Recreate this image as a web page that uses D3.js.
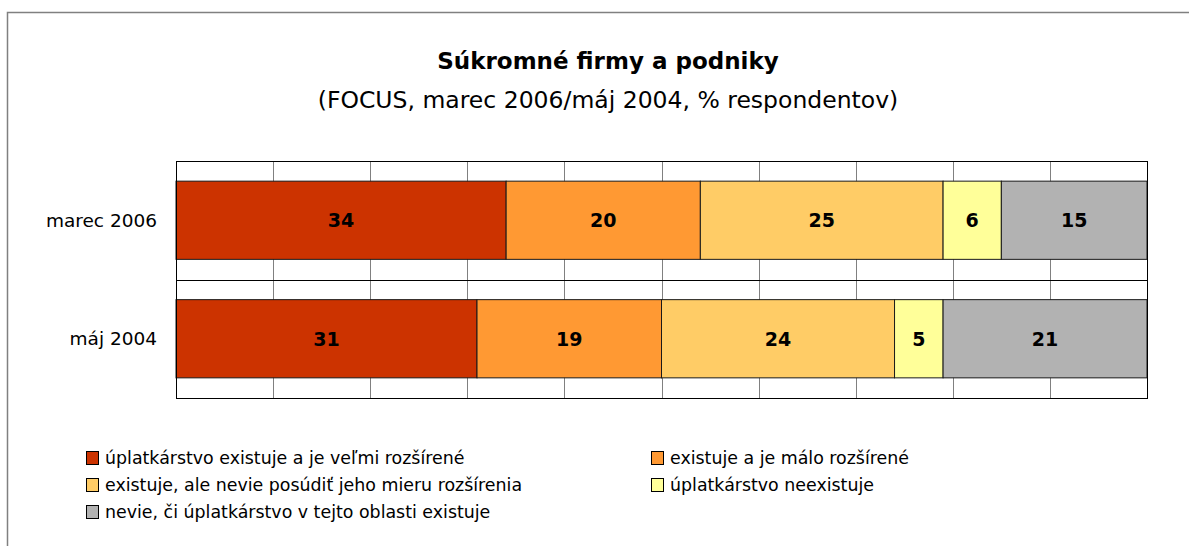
<!DOCTYPE html>
<html>
<head>
<meta charset="utf-8">
<script src="https://cdn.jsdelivr.net/npm/d3@7"></script>
<style>
  body { margin: 0; background: #fff; }
  svg text { font-family: "DejaVu Sans", Verdana, sans-serif; fill: #000; }
</style>
</head>
<body>
<div id="chart"></div>
<script>
// data
var categories = ["marec 2006", "máj 2004"];
var seriesNames = [
  "úplatkárstvo existuje a je veľmi rozšírené",
  "existuje a je málo rozšírené",
  "existuje, ale nevie posúdiť jeho mieru rozšírenia",
  "úplatkárstvo neexistuje",
  "nevie, či úplatkárstvo v tejto oblasti existuje"
];
var values2006 = [34, 20, 25, 6, 15];
var values2004 = [31, 19, 24, 5, 21];
var colors = ["#CC3300", "#FF9933", "#FFCC66", "#FFFF99", "#B2B2B2"];
var xTicks = [0, 10, 20, 30, 40, 50, 60, 70, 80, 90, 100];

// rows for the stack
var rows = [values2006, values2004].map(function(v, i) {
  var r = { cat: categories[i] };
  seriesNames.forEach(function(s, j) { r[s] = v[j]; });
  return r;
});

var W = 1189, H = 546;
var margin = {top: 161, left: 176},
    width = 971, height = 237;

var svg = d3.select("#chart")
  .append("svg")
    .attr("width", W)
    .attr("height", H);

// outer chart frame (runs off the right and bottom edge)
svg.append("rect")
  .attr("x", 7.5).attr("y", 12.5)
  .attr("width", 1300).attr("height", 700)
  .attr("fill", "none")
  .attr("stroke", "#808080")
  .attr("stroke-width", 1.5);

// titles
svg.append("text")
  .attr("x", 608).attr("y", 69)
  .attr("text-anchor", "middle")
  .style("font-weight", "bold")
  .style("font-size", "23px")
  .text("Súkromné firmy a podniky");
svg.append("text")
  .attr("x", 608).attr("y", 108)
  .attr("text-anchor", "middle")
  .style("font-size", "23.5px")
  .text("(FOCUS, marec 2006/máj 2004, % respondentov)");

var g = svg.append("g")
  .attr("transform", "translate(" + margin.left + "," + margin.top + ")");

var x = d3.scaleLinear().domain([0, 100]).range([0, width]);
var y = d3.scaleBand().domain(categories).range([0, height])
  .paddingInner(0.34).paddingOuter(0.17);

// vertical gridlines
g.selectAll(".vgrid")
  .data(xTicks.slice(1, -1))
  .enter().append("line")
    .attr("x1", function(d) { return Math.round(x(d)) + 0.5; })
    .attr("x2", function(d) { return Math.round(x(d)) + 0.5; })
    .attr("y1", 0).attr("y2", height)
    .attr("stroke", "#808080");

// horizontal lines between categories
var hLines = [0, height / 2, height];
g.selectAll(".hgrid")
  .data(hLines)
  .enter().append("line")
    .attr("x1", 0).attr("x2", width)
    .attr("y1", function(d) { return Math.round(d) + 0.5; })
    .attr("y2", function(d) { return Math.round(d) + 0.5; })
    .attr("stroke", "#000");

var stack = d3.stack().keys(seriesNames)(rows);

var layer = g.selectAll(".layer")
  .data(stack)
  .enter().append("g")
    .attr("fill", function(d, i) { return colors[i]; });

layer.selectAll("rect")
  .data(function(d) { return d; })
  .enter().append("rect")
    .attr("x", function(d) { return x(d[0]); })
    .attr("width", function(d) { return x(d[1]) - x(d[0]); })
    .attr("y", function(d) { return y(d.data.cat); })
    .attr("height", y.bandwidth())
    .attr("stroke", "#1a1a1a")
    .attr("stroke-width", 1);

layer.selectAll("text")
  .data(function(d) { return d; })
  .enter().append("text")
    .attr("x", function(d) { return (x(d[0]) + x(d[1])) / 2; })
    .attr("y", function(d) { return y(d.data.cat) + y.bandwidth() / 2; })
    .attr("dy", "0.36em")
    .attr("text-anchor", "middle")
    .style("font-weight", "bold")
    .style("font-size", "19px")
    .style("fill", "#000")
    .text(function(d) { return d[1] - d[0]; });

// plot border
g.append("rect")
  .attr("x", 0.5).attr("y", 0.5)
  .attr("width", width).attr("height", height)
  .attr("fill", "none")
  .attr("stroke", "#000");

// category labels
g.selectAll(".cat")
  .data(categories)
  .enter().append("text")
    .attr("x", -19)
    .attr("y", function(d) { return y(d) + y.bandwidth() / 2; })
    .attr("dy", "0.36em")
    .attr("text-anchor", "end")
    .style("font-size", "18.5px")
    .text(function(d) { return d; });

// legend: left column 0,2,4 ; right column 1,3
var legend = svg.append("g");
var item = legend.selectAll(".item")
  .data(seriesNames)
  .enter().append("g")
    .attr("transform", function(d, i) {
      var col = i % 2, row = Math.floor(i / 2);
      return "translate(" + (col ? 651 : 86) + "," + (451 + row * 27) + ")";
    });
item.append("rect")
  .attr("x", 0.5).attr("y", 0.5)
  .attr("width", 12).attr("height", 13)
  .attr("fill", function(d, i) { return colors[i]; })
  .attr("stroke", "#000");
item.append("text")
  .attr("x", 19).attr("y", 7)
  .attr("dy", "0.36em")
  .style("font-size", "17.4px")
  .text(function(d) { return d; });
</script>
</body>
</html>
